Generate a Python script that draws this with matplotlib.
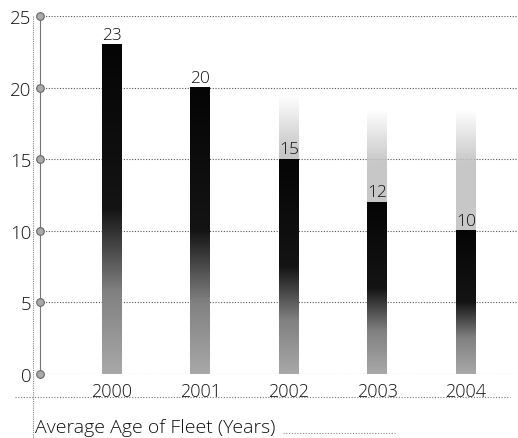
import matplotlib.pyplot as plt
import numpy as np
from matplotlib.colors import LinearSegmentedColormap
from matplotlib.lines import Line2D

# data
years = ['2000', '2001', '2002', '2003', '2004']
avg_age = [23, 20, 15, 12, 10]
ghost = [0, 0, 19.5, 18.5, 18.5]   # faint light bars behind 2002-2004
y_ticks = [0, 5, 10, 15, 20, 25]
x_label = 'Average Age of Fleet (Years)'

plt.rcParams['font.family'] = ['Open Sans', 'DejaVu Sans']
plt.rcParams['font.weight'] = 'light'

fig = plt.figure(figsize=(5.18, 4.39), dpi=100)
ax = fig.add_axes([40 / 518, 1 - 375 / 439, 1 - 40 / 518, (375 - 17) / 439])

pos = np.arange(len(years))
w = 0.226
xmin, xmax = -0.8136, 4.588
ax.set_xlim(xmin, xmax)
ax.set_ylim(0, 25)

# bar fill: black at top, fading to grey in lower half
bar_cmap = LinearSegmentedColormap.from_list('bar', [(0.0, '#a8a8a8'), (0.25, '#808080'),
                                                      (0.5, '#141414'), (1.0, '#050505')])
grad = np.linspace(0, 1, 200).reshape(-1, 1)

for x, v, g in zip(pos, avg_age, ghost):
    if g > 0:
        rgba = np.ones((200, 1, 4)) * 0.76
        rgba[..., 3] = np.clip((1 - grad) / 0.2, 0, 1) * 0.9
        ax.imshow(rgba, extent=[x - w / 2, x + w / 2, 0, g], origin='lower',
                  aspect='auto', zorder=1)
    ax.imshow(grad, extent=[x - w / 2, x + w / 2, 0, v], origin='lower',
              aspect='auto', cmap=bar_cmap, vmin=0, vmax=1, zorder=2)
    ax.text(x, v + 0.12, str(v), ha='center', va='bottom', fontsize=12.5,
            color='#111111', zorder=4)

for t in y_ticks:
    ax.axhline(t, color='#555555', lw=0.8, ls=(0, (1, 1.5)), zorder=0)
ax.plot([xmin] * len(y_ticks), y_ticks, 'o', ms=5.5, mfc='#aaaaaa', mec='#666666',
        mew=0.8, clip_on=False, zorder=5)

for s in ['top', 'right', 'bottom']:
    ax.spines[s].set_visible(False)
ax.spines['left'].set_color('#777777')
ax.spines['left'].set_linestyle((0, (1, 1)))
ax.spines['left'].set_linewidth(0.8)

ax.set_yticks(y_ticks)
ax.set_yticklabels([str(t) for t in y_ticks], fontsize=13.5, color='#111111')
ax.set_xticks(pos)
ax.set_xticklabels(years, fontsize=13, color='#111111')
ax.tick_params(axis='both', length=0)
ax.tick_params(axis='y', pad=6)
ax.tick_params(axis='x', pad=6)

# decorative dotted lines around the labels
fig.add_artist(Line2D([15 / 518, 510 / 518], [1 - 398 / 439] * 2, color='#777777',
                      lw=0.8, ls=(0, (1, 1.5))))
fig.add_artist(Line2D([33 / 518, 33 / 518], [1 - 17 / 439, 0], color='#888888',
                      lw=0.8, ls=(0, (1, 1))))
fig.add_artist(Line2D([283 / 518, 395 / 518], [1 - 434 / 439] * 2, color='#888888',
                      lw=0.8, ls=(0, (1, 1.5))))
fig.text(35 / 518, 1 - 433 / 439, x_label, fontsize=14, color='#111111',
         ha='left', va='baseline')

fig.savefig('out.png', dpi=100)
